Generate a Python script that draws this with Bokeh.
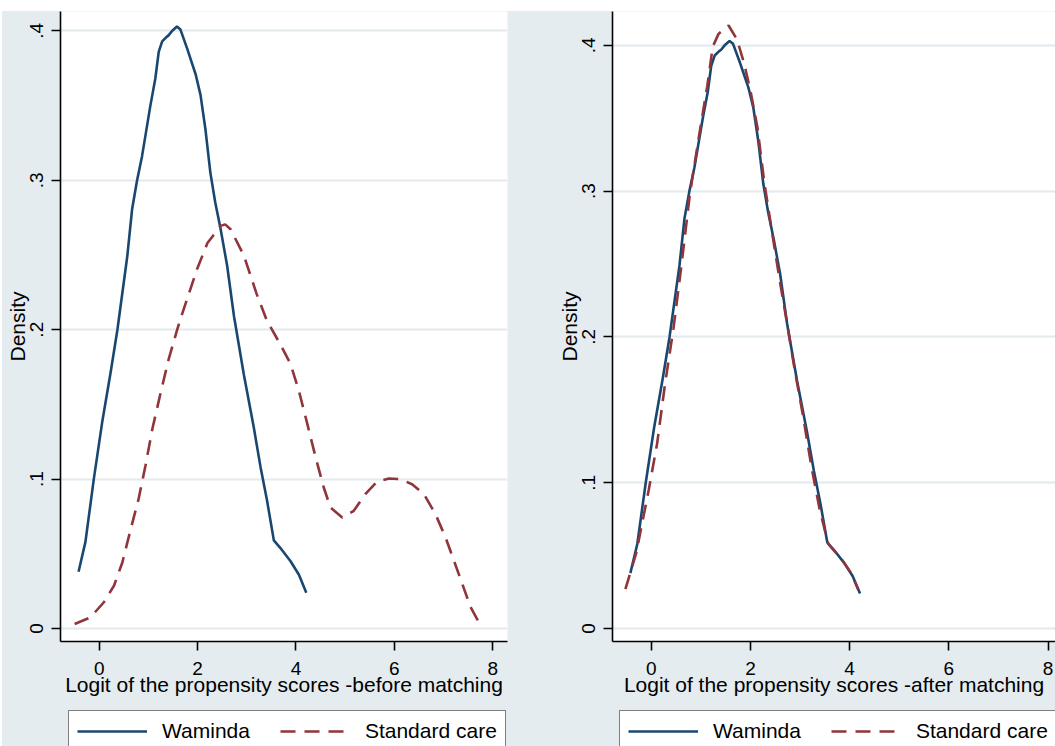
from bokeh.plotting import figure
from bokeh.layouts import row, column, Spacer
from bokeh.models import (Range1d, FixedTicker, Legend, LegendItem,
                          CustomJSTickFormatter)
from bokeh.embed import file_html
from bokeh.resources import INLINE

# ---------------- data ----------------
series_names = ["Waminda", "Standard care"]
x_titles = ["Logit of the propensity scores -before matching",
            "Logit of the propensity scores -after matching"]
y_title = "Density"
x_ticks = [0, 2, 4, 6, 8]
y_ticks = [0, 0.1, 0.2, 0.3, 0.4]
y_tick_labels = ["0", ".1", ".2", ".3", ".4"]

# Waminda (same in both panels)
wam_x = [-0.42, -0.28, -0.11, 0.06, 0.23, 0.37, 0.57, 0.67, 0.77, 0.87, 1.04, 1.14,
         1.21, 1.28, 1.37, 1.41, 1.48, 1.58, 1.65, 1.79, 1.86, 1.96, 2.06, 2.16,
         2.26, 2.36, 2.47, 2.60, 2.74, 2.94, 3.14, 3.28, 3.41, 3.55, 3.68, 3.89,
         4.06, 4.21]
wam_y = [0.038, 0.058, 0.100, 0.138, 0.171, 0.200, 0.249, 0.281, 0.300, 0.316, 0.350,
         0.368, 0.386, 0.393, 0.396, 0.397, 0.400, 0.403, 0.401, 0.388, 0.381, 0.371,
         0.357, 0.334, 0.305, 0.285, 0.267, 0.243, 0.209, 0.170, 0.135, 0.108, 0.086,
         0.059, 0.054, 0.045, 0.036, 0.024]

# Standard care, before matching
std_before_x = [-0.50, -0.18, 0.09, 0.30, 0.47, 0.64, 0.80, 0.94, 1.08, 1.25, 1.41,
                1.585, 1.67, 1.99, 2.20, 2.47, 2.56, 2.67, 2.94, 3.20, 3.41, 3.685,
                3.89, 4.06, 4.23, 4.40, 4.565, 4.70, 4.94, 5.175, 5.41, 5.65, 5.89,
                6.12, 6.36, 6.60, 6.835, 7.04, 7.21, 7.38, 7.55, 7.72]
std_before_y = [0.003, 0.0074, 0.0174, 0.0286, 0.0442, 0.0665, 0.0866, 0.109, 0.1335,
                0.158, 0.180, 0.200, 0.209, 0.2406, 0.258, 0.2695, 0.2705, 0.2673,
                0.2497, 0.224, 0.206, 0.190, 0.177, 0.159, 0.137, 0.1145, 0.0944,
                0.081, 0.0743, 0.0788, 0.090, 0.0984, 0.1004, 0.100, 0.0966, 0.090,
                0.0766, 0.061, 0.0455, 0.0299, 0.0143, 0.004]

# Standard care, after matching
std_after_x = [-0.52, -0.30, -0.05, 0.12, 0.28, 0.45, 0.62, 0.78, 0.97, 1.13, 1.24,
               1.36, 1.56, 1.73, 1.87, 2.00, 2.14, 2.28, 2.44, 2.58, 2.74, 2.90, 3.06,
               3.23, 3.40, 3.57, 3.84, 4.03, 4.17]
std_after_y = [0.027, 0.052, 0.095, 0.127, 0.168, 0.206, 0.252, 0.298, 0.339, 0.372,
               0.399, 0.408, 0.4136, 0.404, 0.388, 0.369, 0.344, 0.306, 0.271, 0.241,
               0.209, 0.176, 0.146, 0.111, 0.081, 0.058, 0.0475, 0.038, 0.027]

# ---------------- style ----------------
BG = "#E5ECEF"
GRID = "#E2EAEE"
NAVY = "#1A476F"
MAROON = "#90353B"
FONT = "Liberation Sans"
DASH = "15 9"
LW = 2.6


def make_panel(width, b_left, b_right, x_range, y_range, x_title, sx, sy):
    p = figure(width=width, height=696, title=None,
               x_range=Range1d(*x_range), y_range=Range1d(*y_range),
               output_backend="svg", toolbar_location=None,
               min_border_left=b_left, min_border_right=b_right,
               min_border_top=0, min_border_bottom=66)
    p.background_fill_color = "white"
    p.border_fill_color = BG
    p.outline_line_color = None

    p.xgrid.visible = False
    p.ygrid.grid_line_color = GRID
    p.ygrid.grid_line_width = 2

    p.xaxis.ticker = FixedTicker(ticks=x_ticks)
    p.yaxis.ticker = FixedTicker(ticks=y_ticks)
    p.yaxis.formatter = CustomJSTickFormatter(
        args=dict(yt=y_ticks, yl=y_tick_labels),
        code="""
        const i = yt.findIndex(t => Math.abs(t - tick) < 1e-9);
        return i >= 0 ? yl[i] : '';
        """)
    for ax in (p.xaxis[0], p.yaxis[0]):
        ax.axis_line_color = "black"
        ax.axis_line_width = 1.6
        ax.major_tick_line_color = "black"
        ax.major_tick_line_width = 1.6
        ax.major_tick_out = 9
        ax.major_tick_in = 0
        ax.minor_tick_out = 0
        ax.minor_tick_in = 0
        ax.major_label_text_font = FONT
        ax.major_label_text_font_size = "19px"
        ax.major_label_text_color = "black"
        ax.axis_label_text_font = FONT
        ax.axis_label_text_font_size = "21px"
        ax.axis_label_text_font_style = "normal"
        ax.axis_label_text_color = "black"
    p.yaxis.major_label_orientation = "vertical"
    p.yaxis.major_label_standoff = 8
    p.yaxis.axis_label = y_title
    p.yaxis.axis_label_standoff = -1
    p.xaxis.major_label_standoff = 11
    p.xaxis.axis_label = x_title
    p.xaxis.axis_label_standoff = -5

    p.line(wam_x, wam_y, line_color=NAVY, line_width=LW)
    p.line(sx, sy, line_color=MAROON, line_width=LW, line_dash=DASH)
    return p


def make_legend_box(width, box_left, sx, sy):
    # legend strip under each panel; its frame aligns with the panel above
    q = figure(width=width, height=39, title=None, x_range=Range1d(0, 1),
               y_range=Range1d(10, 11), x_axis_type=None, y_axis_type=None,
               output_backend="svg", toolbar_location=None, min_border=0)
    q.background_fill_color = BG
    q.border_fill_color = BG
    q.outline_line_color = None
    # keys carry the series' style; their data lies outside this strip's range
    k1 = q.line(wam_x, wam_y, line_color=NAVY, line_width=LW)
    k2 = q.line(sx, sy, line_color=MAROON, line_width=LW, line_dash=DASH)
    legend = Legend(items=[LegendItem(label=series_names[0], renderers=[k1]),
                           LegendItem(label=series_names[1], renderers=[k2])],
                    orientation="horizontal", location=(box_left, -6),
                    border_line_color="black", border_line_width=1.5,
                    background_fill_color="white", background_fill_alpha=1.0,
                    label_text_font=FONT, label_text_font_size="21px",
                    label_text_color="black",
                    glyph_width=70, glyph_height=24, label_height=24,
                    label_standoff=15, spacing=30, padding=8, margin=0)
    q.add_layout(legend)
    return q


p1 = make_panel(528, 58, 23, (-0.787, 8.30), (-0.0087, 0.4130), x_titles[0],
                std_before_x, std_before_y)
p2 = make_panel(525, 82, 0, (-0.78, 8.15), (-0.0089, 0.4232), x_titles[1],
                std_after_x, std_after_y)
l1 = make_legend_box(528, 8, std_before_x, std_before_y)
l2 = make_legend_box(525, 7, std_after_x, std_after_y)

panels = row(column(p1, l1), column(p2, l2), styles={"background-color": BG})
layout = column(Spacer(width=1055, height=11),
                row(Spacer(width=2, height=735), panels))

open("out.html", "w").write(file_html(layout, INLINE))
